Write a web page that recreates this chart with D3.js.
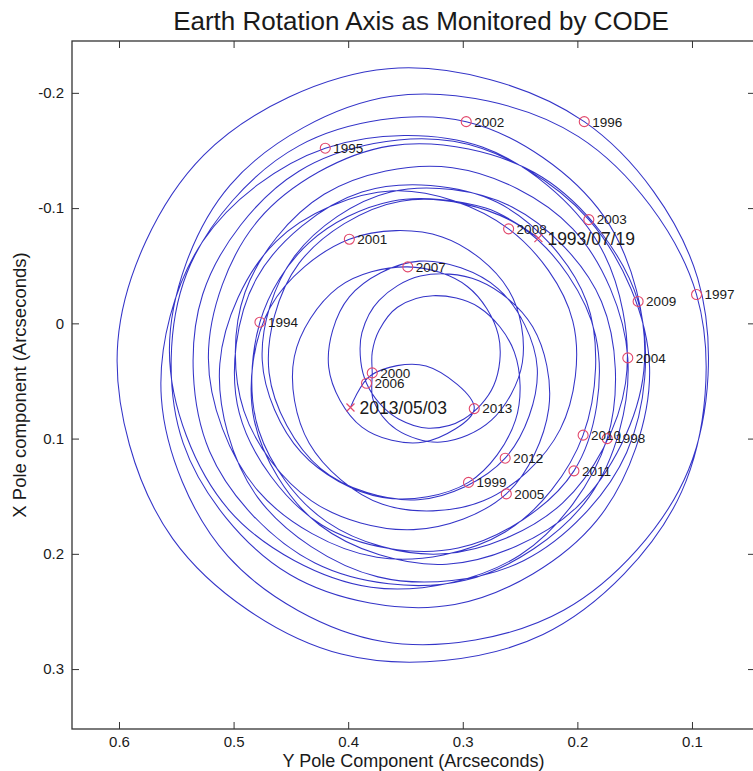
<!DOCTYPE html>
<html><head><meta charset="utf-8">
<script src="https://cdn.jsdelivr.net/npm/d3@7"></script>
<style>
body{margin:0;background:#fff;}
text{font-family:"Liberation Sans",Arial,Helvetica,sans-serif;fill:#1a1a1a;}
</style>
</head><body>
<svg id="chart" width="753" height="771"></svg>
<script>
// Pole path (estimated), Y pole component (horizontal) and X pole component (vertical), arcseconds
const poleY = [0.234,0.280,0.362,0.434,
 0.477,0.478,0.419,0.317,0.213,0.158,0.182,0.283,
 0.420,0.527,0.563,0.505,0.370,0.212,0.103,0.095,
 0.194,0.365,0.526,0.601,0.553,0.406,0.230,0.109,
 0.096,0.199,0.362,0.503,0.556,0.504,0.380,0.250,
 0.174,0.179,0.257,0.363,0.447,0.475,0.441,0.370,
 0.295,0.254,0.255,0.286,0.326,0.357,0.373,0.379,
 0.379,0.378,0.358,0.319,0.275,0.248,0.260,0.318,
 0.399,0.468,0.482,0.425,0.314,0.200,0.142,0.177,
 0.297,0.443,0.541,0.544,0.451,0.307,0.183,0.137,
 0.190,0.308,0.443,0.527,0.521,0.429,0.298,0.190,
 0.156,0.204,0.309,0.421,0.490,0.491,0.432,0.343,
 0.262,0.225,0.239,0.286,0.337,0.373,0.388,0.389,
 0.384,0.373,0.356,0.330,0.299,0.273,0.269,0.296,
 0.348,0.409,0.447,0.434,0.370,0.282,0.215,0.204,
 0.260,0.361,0.463,0.512,0.479,0.374,0.247,0.157,
 0.147,0.231,0.363,0.478,0.522,0.479,0.375,0.263,
 0.195,0.192,0.270,0.388,0.480,0.495,0.423,0.304,
 0.203,0.184,0.248,0.354,0.443,0.469,0.424,0.339,
 0.263,0.235,0.269,0.338,0.399,0.417,0.388,0.334,
 0.290,0.332,0.380,0.398];
const poleX = [-0.074,-0.100,-0.106,-0.070,
 -0.001,0.093,0.172,0.200,0.156,0.052,-0.070,-0.153,
 -0.152,-0.071,0.065,0.202,0.276,0.249,0.127,-0.039,
 -0.175,-0.221,-0.146,0.016,0.187,0.287,0.270,0.146,
 -0.025,-0.162,-0.197,-0.120,0.024,0.162,0.229,0.201,
 0.100,-0.019,-0.101,-0.114,-0.058,0.032,0.112,0.151,
 0.138,0.084,0.025,-0.014,-0.024,-0.014,0.006,0.025,
 0.043,0.067,0.092,0.103,0.084,0.034,-0.029,-0.075,
 -0.073,-0.014,0.084,0.175,0.209,0.159,0.041,-0.093,
 -0.175,-0.154,-0.043,0.104,0.218,0.244,0.171,0.038,
 -0.090,-0.158,-0.132,-0.025,0.111,0.208,0.223,0.151,
 0.030,-0.082,-0.135,-0.112,-0.027,0.076,0.154,0.179,
 0.148,0.074,0.003,-0.037,-0.041,-0.020,0.008,0.033,
 0.052,0.069,0.083,0.091,0.083,0.054,0.010,-0.032,
 -0.049,-0.031,0.029,0.104,0.157,0.154,0.092,-0.002,
 -0.082,-0.115,-0.071,0.035,0.151,0.220,0.206,0.112,
 -0.019,-0.127,-0.154,-0.090,0.030,0.145,0.203,0.181,
 0.097,-0.019,-0.105,-0.114,-0.039,0.078,0.175,0.195,
 0.128,0.011,-0.083,-0.106,-0.052,0.043,0.126,0.153,
 0.117,0.039,-0.030,-0.054,-0.023,0.038,0.090,0.103,
 0.074,0.037,0.045,0.073];

// Yearly (1 January) markers
const markerYears = [1994,1995,1996,1997,1998,1999,2000,2001,2002,2003,2004,2005,2006,2007,2008,2009,2010,2011,2012,2013];
const markerY = [0.477,0.420,0.194,0.096,0.174,0.295,0.379,0.399,0.297,0.190,0.156,0.262,0.384,0.348,0.260,0.147,0.195,0.203,0.263,0.290];
const markerX = [-0.001,-0.152,-0.175,-0.025,0.100,0.138,0.043,-0.073,-0.175,-0.090,0.030,0.148,0.052,-0.049,-0.082,-0.019,0.097,0.128,0.117,0.074];

// Start / end
const endLabels = ["1993/07/19","2013/05/03"];
const endY = [0.234,0.398];
const endX = [-0.074,0.073];

const xTicks = [0.6,0.5,0.4,0.3,0.2,0.1];
const yTicks = [-0.2,-0.1,0,0.1,0.2,0.3];

const svg = d3.select("#chart");
const L = 72, R = 755, T = 41, B = 729;
const x = d3.scaleLinear().domain([0.641,0.045]).range([L,R]);
const y = d3.scaleLinear().domain([-0.245,0.352]).range([T,B]);
const fmt = d => d === 0 ? "0" : d.toFixed(1).replace("\u2212","-");
const axisColor = "#333";

// path
const pts = poleY.map((v,i)=>[v, poleX[i]]);
const line = d3.line().x(d=>x(d[0])).y(d=>y(d[1])).curve(d3.curveCatmullRom.alpha(0.5));
svg.append("path").datum(pts).attr("d", line)
  .attr("fill","none").attr("stroke","#3434c8").attr("stroke-width",1.05).attr("stroke-linejoin","round");

// axes
const gB = svg.append("g").attr("transform",`translate(0,${B})`)
  .call(d3.axisBottom(x).tickValues(xTicks).tickSizeInner(-7).tickSizeOuter(0).tickPadding(7).tickFormat(fmt));
const gT = svg.append("g").attr("transform",`translate(0,${T})`)
  .call(d3.axisTop(x).tickValues(xTicks).tickSizeInner(-7).tickSizeOuter(0).tickFormat(""));
const gL = svg.append("g").attr("transform",`translate(${L},0)`)
  .call(d3.axisLeft(y).tickValues(yTicks).tickSizeInner(-7).tickSizeOuter(0).tickPadding(8).tickFormat(fmt));
const gR = svg.append("g").attr("transform",`translate(${R},0)`)
  .call(d3.axisRight(y).tickValues(yTicks).tickSizeInner(-7).tickSizeOuter(0).tickFormat(""));
[gB,gT,gL,gR].forEach(g=>{
  g.select(".domain").remove();
  g.selectAll(".tick line").attr("stroke",axisColor).attr("stroke-width",1);
  g.selectAll(".tick text").attr("font-size","15px").attr("fill","#222")
    .attr("font-family","'Liberation Sans',Arial,sans-serif");
});
svg.append("rect").attr("x",L).attr("y",T).attr("width",R-L).attr("height",B-T)
  .attr("fill","none").attr("stroke",axisColor).attr("stroke-width",1.3);

// yearly markers
const mk = svg.append("g");
markerYears.forEach((yr,i)=>{
  const cx = x(markerY[i]), cy = y(markerX[i]);
  mk.append("circle").attr("cx",cx).attr("cy",cy).attr("r",5)
    .attr("fill","none").attr("stroke","#e2486c").attr("stroke-width",1.1);
  mk.append("text").attr("x",cx+8).attr("y",cy).attr("dy","0.36em")
    .attr("font-size","13.5px").text(yr);
});
// start/end markers
endLabels.forEach((lab,i)=>{
  const cx = x(endY[i]), cy = y(endX[i]);
  mk.append("path").attr("d",`M${cx-4},${cy-4}L${cx+4},${cy+4}M${cx-4},${cy+4}L${cx+4},${cy-4}`)
    .attr("stroke","#e2486c").attr("stroke-width",1.2);
  mk.append("text").attr("x",cx+9).attr("y",cy).attr("dy","0.38em")
    .attr("font-size","17.5px").text(lab);
});

// titles
svg.append("text").attr("x",421).attr("y",30).attr("text-anchor","middle")
  .attr("font-size","26px").text("Earth Rotation Axis as Monitored by CODE");
svg.append("text").attr("x",(L+R)/2).attr("y",767).attr("text-anchor","middle")
  .attr("font-size","18px").text("Y Pole Component (Arcseconds)");
svg.append("text").attr("transform",`translate(26,${(T+B)/2}) rotate(-90)`).attr("text-anchor","middle")
  .attr("font-size","18.5px").text("X Pole component (Arcseconds)");
</script>
</body></html>
